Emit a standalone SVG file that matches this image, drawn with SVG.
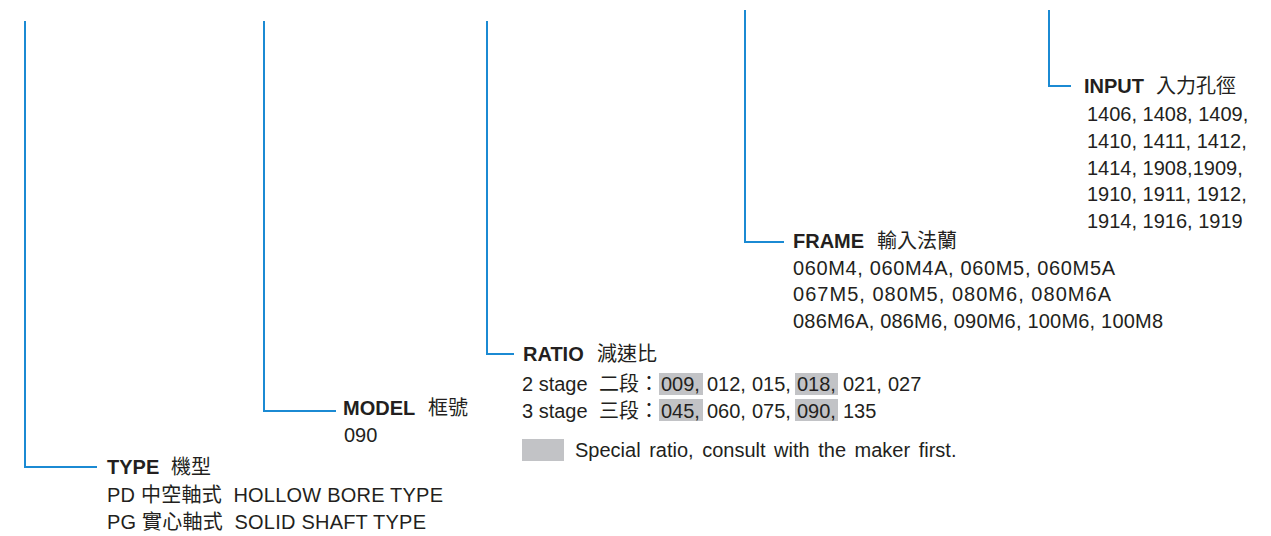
<svg xmlns="http://www.w3.org/2000/svg" width="1271" height="536" viewBox="0 0 1271 536">
<style>
text{font-family:"Liberation Sans","Noto Sans CJK TC",sans-serif;font-size:20px;fill:#231f20;white-space:pre}
.b{font-weight:bold}
.cn{font-weight:normal}
.conn{fill:none;stroke:#1b8ad3;stroke-width:2}
.hl{fill:#c2c3c6}
</style>
<rect width="1271" height="536" fill="#ffffff"/>
<g id="connectors">
<path class="conn" d="M25,21V467H97"/>
<path class="conn" d="M264,21V411H336"/>
<path class="conn" d="M487,21V354H514"/>
<path class="conn" d="M745,10V242H784"/>
<path class="conn" d="M1049,10V86H1071"/>
</g>
<g id="input">
<text x="1084" y="93" class="b">INPUT<tspan x="1156" class="cn">入力孔徑</tspan></text>
<text x="1087" y="121">1406, 1408, 1409,</text>
<text x="1087" y="148">1410, 1411, 1412,</text>
<text x="1087" y="175">1414, 1908,1909,</text>
<text x="1087" y="201">1910, 1911, 1912,</text>
<text x="1087" y="228">1914, 1916, 1919</text>
</g>
<g id="frame">
<text x="793" y="248" class="b">FRAME<tspan x="877" class="cn">輸入法蘭</tspan></text>
<text x="793" y="275" textLength="322" lengthAdjust="spacing">060M4, 060M4A, 060M5, 060M5A</text>
<text x="793" y="301" textLength="318" lengthAdjust="spacing">067M5, 080M5, 080M6, 080M6A</text>
<text x="793" y="328" textLength="370" lengthAdjust="spacing">086M6A, 086M6, 090M6, 100M6, 100M8</text>
</g>
<g id="ratio">
<rect class="hl" x="659" y="373" width="44" height="22"/>
<rect class="hl" x="795" y="373" width="43" height="22"/>
<rect class="hl" x="659" y="399" width="44" height="22"/>
<rect class="hl" x="795" y="399" width="43" height="22"/>
<rect class="hl" x="522" y="439" width="42" height="22"/>
<text x="523" y="361" class="b">RATIO<tspan x="597" class="cn">減速比</tspan></text>
<text x="522" y="391">2 stage<tspan x="599">二段：</tspan><tspan x="661">009,</tspan><tspan x="707">012,</tspan><tspan x="752">015,</tspan><tspan x="797">018,</tspan><tspan x="843">021,</tspan><tspan x="888">027</tspan></text>
<text x="522" y="418">3 stage<tspan x="599">三段：</tspan><tspan x="661">045,</tspan><tspan x="707">060,</tspan><tspan x="752">075,</tspan><tspan x="797">090,</tspan><tspan x="843">135</tspan></text>
<text x="575" y="457" word-spacing="3">Special ratio, consult with the maker first.</text>
</g>
<g id="model">
<text x="343" y="415" class="b">MODEL<tspan x="428" class="cn">框號</tspan></text>
<text x="344" y="442">090</text>
</g>
<g id="type">
<text x="107" y="474" class="b">TYPE<tspan x="171" class="cn">機型</tspan></text>
<text x="107" y="502" textLength="336" lengthAdjust="spacing">PD 中空軸式  HOLLOW BORE TYPE</text>
<text x="107" y="529" textLength="319" lengthAdjust="spacing">PG 實心軸式  SOLID SHAFT TYPE</text>
</g>
</svg>
